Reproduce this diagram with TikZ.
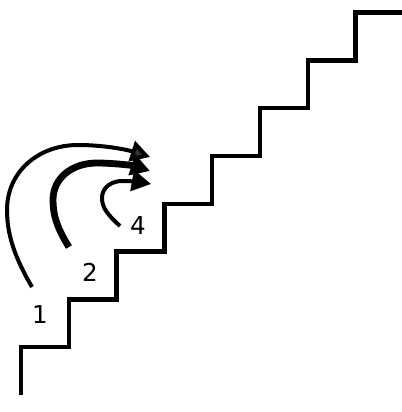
\documentclass[tikz,border=0pt]{standalone}
\usepackage{fontspec}
\setmainfont{DejaVu Sans}
\usetikzlibrary{arrows.meta}

\begin{document}
\begin{tikzpicture}[
    x=0.025cm, y=-0.025cm,
    stair/.style={line width=0.11cm, line join=miter},
    jump/.style={line width=0.1cm,
      -{Triangle[length=0.48cm, width=0.52cm]}},
    num/.style={inner sep=0pt, font=\fontsize{17.5}{20}\selectfont}
  ]
    \useasboundingbox (0,0) rectangle (401,412);

    % Treppe
    \draw[stair] (21,395) \foreach \i in {1,...,8} { -- ++(0,-47.8) -- ++(47.8,0) };

    % Zahlen
    \node[num] (one) at (40,315) {1};
    \node[num] (two) at (90,272) {2};
    \node[num] (four) at (138,226) {4};

    % Enden der Pfeile
    \coordinate (s1) at (32,287);
    \coordinate (t1) at (150,157);
    \coordinate (s2) at (69,247);
    \coordinate (t2) at (150,171);
    \coordinate (s3) at (120,226);
    \coordinate (t3) at (151,184);

    % Pfeile
    \draw[jump, -{Triangle[length=0.48cm, width=0.52cm, fill=black!80]}]
      (s1) .. controls (15,258) and (7,235) .. (7,210)
      .. controls (7,172) and (38,145) .. (78,145)
      .. controls (105,145) and (128,150) .. (t1);
    \draw[jump, line width=0.17cm]
      (s2) .. controls (57,228) and (53,215) .. (53,200)
      .. controls (53,178) and (72,163) .. (97,163)
      .. controls (115,163) and (135,166) .. (t2);
    \draw[jump]
      (s3) .. controls (108,215) and (102,208) .. (102,198)
      .. controls (102,187) and (112,181) .. (122,181)
      .. controls (130,181) and (140,182) .. (t3);
  \end{tikzpicture}
\end{document}
